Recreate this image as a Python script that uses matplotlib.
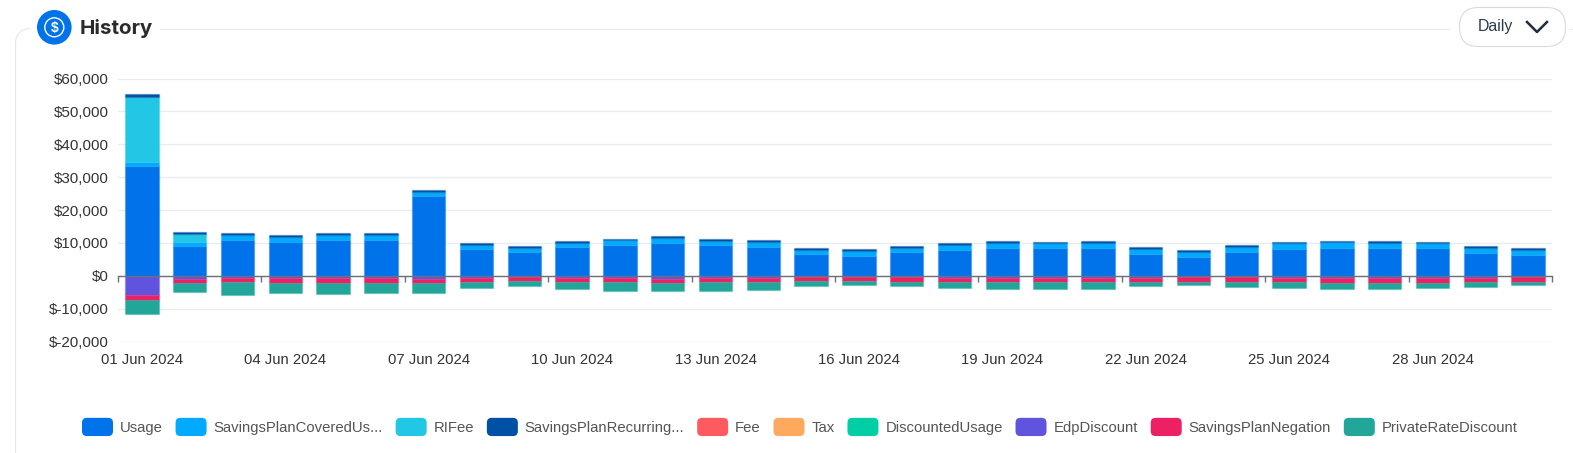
import numpy as np
import matplotlib
matplotlib.use("Agg")
import matplotlib.pyplot as plt
from matplotlib.colors import to_rgba
from matplotlib.legend_handler import HandlerPatch
from matplotlib.patches import Circle, FancyBboxPatch, Patch
from matplotlib.ticker import FuncFormatter

days = [f"{d:02d} Jun 2024" for d in range(1, 31)]

usage = [33300, 9000, 10900, 10400, 10900, 11000, 24150, 8200, 7200, 8600,
         9300, 9850, 9250, 8700, 6600, 6000, 7100, 7900, 8500, 8300,
         8500, 6600, 5800, 7200, 8200, 8500, 8500, 8300, 7000, 6200]
covered = [1200, 1250, 1400, 1500, 1500, 1400, 1350, 1100, 1300, 1350,
           1450, 1550, 1300, 1550, 1300, 1400, 1400, 1450, 1450, 1550,
           1450, 1400, 1400, 1400, 1650, 1650, 1550, 1550, 1500, 1500]
ri_fee = [20000, 2350, 0, 0, 0, 0, 0, 0, 0, 0,
          0, 0, 0, 0, 0, 0, 0, 0, 0, 0,
          0, 0, 0, 0, 0, 0, 0, 0, 0, 0]
recurring = [700, 700, 600, 600, 600, 700, 500, 750, 540, 600,
             550, 600, 650, 500, 600, 600, 600, 600, 500, 500,
             500, 700, 600, 650, 500, 500, 500, 500, 600, 700]
fee = [0] * 30
tax = [0] * 30
discounted = [0] * 30
edp = [5900, 900, 600, 800, 800, 800, 1100, 700, 500, 800,
       800, 900, 800, 800, 500, 500, 500, 700, 700, 700,
       700, 600, 500, 500, 600, 700, 700, 700, 600, 500]
negation = [1500, 1200, 1300, 1300, 1300, 1300, 1100, 1100, 1200, 1200,
            1200, 1200, 1200, 1200, 1200, 1100, 1300, 1300, 1300, 1300,
            1300, 1300, 1300, 1400, 1400, 1400, 1400, 1400, 1300, 1300]
private = [4200, 2700, 3900, 3000, 3400, 3200, 3100, 1800, 1450, 2000,
           2500, 2600, 2500, 2200, 1350, 1150, 1450, 1650, 1950, 1950,
           1950, 1250, 950, 1550, 1850, 1950, 1950, 1750, 1450, 1150]

pos_series = [("Usage", usage, "#0073EA"),
              ("SavingsPlanCoveredUs...", covered, "#00AAFF"),
              ("RIFee", ri_fee, "#22C7E6"),
              ("SavingsPlanRecurring...", recurring, "#0050A5"),
              ("Fee", fee, "#FF5A5F"),
              ("Tax", tax, "#FFA95E"),
              ("DiscountedUsage", discounted, "#00CFA5")]
neg_series = [("EdpDiscount", edp, "#6054DE"),
              ("SavingsPlanNegation", negation, "#EE2064"),
              ("PrivateRateDiscount", private, "#22A699")]

W, H = 1573, 453
plt.rcParams["font.family"] = ["Liberation Sans", "DejaVu Sans"]
fig = plt.figure(figsize=(W / 100, H / 100), dpi=100)
L, R, T, B = 118, 1552, 78.5, 341.5
ax = fig.add_axes([L / W, 1 - B / H, (R - L) / W, (B - T) / H])

x = np.arange(30)
for sign, series in ((1, pos_series), (-1, neg_series)):
    base = np.zeros(30)
    for _, vals, col in series:
        v = sign * np.array(vals, dtype=float)
        mask = v != 0
        ax.bar(x[mask], v[mask], 0.70, bottom=base[mask], color=col,
               edgecolor=to_rgba(col, 0.3), linewidth=1.0, zorder=3)
        base += v

ax.set_xlim(-0.5, 29.5)
ax.set_ylim(-20000, 60000)
ax.set_yticks(np.arange(-20000, 60001, 10000))
ax.yaxis.set_major_formatter(FuncFormatter(lambda v, _: f"${int(v):,}"))
ax.grid(axis="y", color="#E6EBF4", linewidth=1.0, zorder=0)
ax.set_axisbelow(True)
for s in ax.spines.values():
    s.set_visible(False)
ax.tick_params(axis="y", length=0, pad=6.5, labelsize=10.9, labelcolor="#333333")
ax.set_xticks(x[::3], days[::3])
ax.tick_params(axis="x", length=0, pad=8, labelsize=10.7, labelcolor="#333333")

zero_axis = ax.secondary_xaxis(0.25)
zero_axis.set_xticks(np.arange(-0.5, 30, 3))
zero_axis.set_xticklabels([])
zero_axis.tick_params(axis="x", direction="out", length=4.5, width=1, color="#6E7079")
zero_axis.spines["bottom"].set_color("#6E7079")
zero_axis.spines["bottom"].set_linewidth(1)
zero_axis.set_zorder(4)


class RoundHandler(HandlerPatch):
    def create_artists(self, legend, orig, xd, yd, width, height, fontsize, trans):
        p = FancyBboxPatch((-xd + 2, -yd + 2 - 2.2), width - 4, height + 0.4,
                           boxstyle="round,pad=2,rounding_size=3.5",
                           facecolor=orig.get_facecolor(),
                           edgecolor="none", transform=trans)
        return [p]


handles = [Patch(facecolor=c, label=n) for n, _, c in pos_series + neg_series]
fs = 10.75
px = 72 / 100 / fs  # one pixel in font-size units
leg = fig.legend(handles=handles, ncol=10, loc="center left",
                 bbox_to_anchor=(82 / W, 1 - 428 / H), frameon=False, fontsize=fs,
                 handlelength=31 * px, handleheight=13 * px, handletextpad=7 * px,
                 columnspacing=12.7 * px, borderpad=0, borderaxespad=0,
                 labelcolor="#555555",
                 handler_map={Patch: RoundHandler()})

ov = fig.add_axes([0, 0, 1, 1], zorder=-1)
ov.set_xlim(0, W)
ov.set_ylim(H, 0)
ov.axis("off")
line = "#E6E9EF"
t = np.linspace(np.pi, 1.5 * np.pi, 20)
cx = 15.5 + 14 * (1 + np.cos(t))
cy = 28.5 + 14 * (1 + np.sin(t))
ov.plot(np.r_[15.5, cx], np.r_[453, cy], color=line, lw=0.9)
ov.plot([160, 1449], [28.5, 28.5], color=line, lw=0.9)
ov.plot([1570, 1573], [28.5, 28.5], color=line, lw=0.9)

top = fig.add_axes([0, 0, 1, 1], zorder=5)
top.set_xlim(0, W)
top.set_ylim(H, 0)
top.axis("off")
top.patch.set_alpha(0)
top.add_patch(Circle((54.3, 27.3), 17.3, facecolor="#0073EA", edgecolor="none"))
top.add_patch(Circle((54.3, 27.3), 9.5, facecolor="none", edgecolor="white", lw=1))
top.text(54.3, 27.6, "$", color="white", fontsize=10, fontweight="bold", ha="center", va="center")
top.text(80, 29, "History", family="Inter", fontsize=14.8, fontweight="bold",
         color="#2B2B2B", ha="left", va="center")
top.add_patch(FancyBboxPatch((1459.5 + 19, 7.5 + 19), 106 - 38, 1,
                             boxstyle="round,pad=19,rounding_size=19", facecolor="white",
                             edgecolor="#D8DADE", lw=0.8))
top.text(1478, 27, "Daily", fontsize=11.4, color="#2A3A4A", ha="left", va="center")
top.plot([1527, 1537, 1547], [22, 32, 22], color="#1F2D3D", lw=1.8)

fig.savefig("out.png", dpi=100, facecolor="white")
